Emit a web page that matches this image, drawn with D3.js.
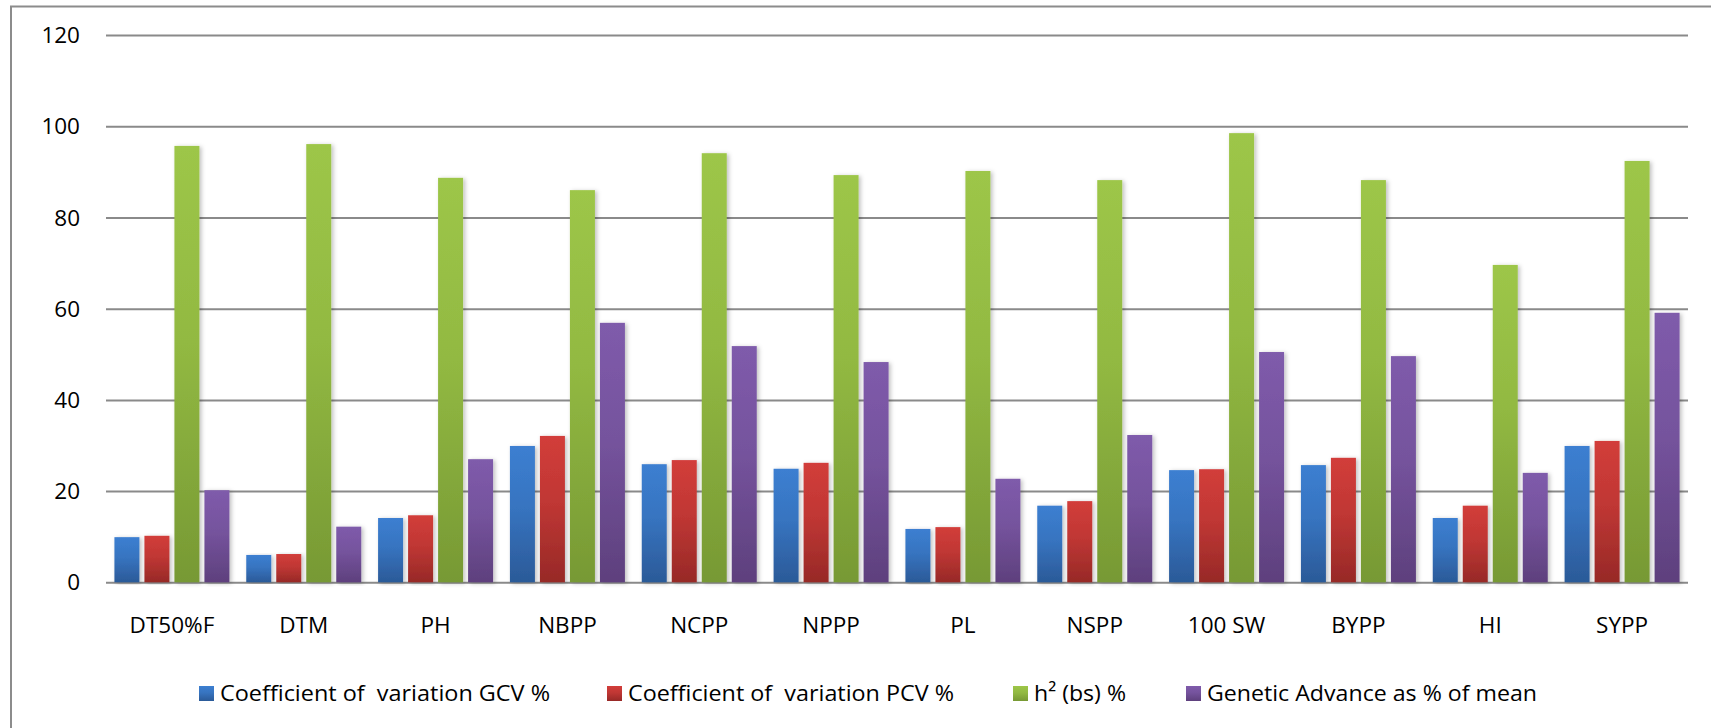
<!DOCTYPE html>
<html>
<head>
<meta charset="utf-8">
<script src="https://cdn.jsdelivr.net/npm/d3@7"></script>
<style>
  html, body { margin: 0; padding: 0; background: #fff; }
  svg { display: block; }
  text { font-family: "Open Sans", "DejaVu Sans", sans-serif; fill: #000; }
</style>
</head>
<body>
<svg id="chart" width="1711" height="728"></svg>
<script>
// ---- data ----
const categories = ["DT50%F", "DTM", "PH", "NBPP", "NCPP", "NPPP", "PL", "NSPP", "100 SW", "BYPP", "HI", "SYPP"];
const seriesNames = ["Coefficient of  variation GCV %", "Coefficient of  variation PCV %", "h² (bs) %", "Genetic Advance as % of mean"];
const gcv = [9.9, 6.0, 14.1, 29.9, 25.9, 24.9, 11.7, 16.8, 24.6, 25.7, 14.1, 29.9];
const pcv = [10.2, 6.2, 14.7, 32.1, 26.8, 26.2, 12.1, 17.8, 24.8, 27.3, 16.8, 31.0];
const h2 = [95.7, 96.1, 88.7, 86.0, 94.1, 89.3, 90.2, 88.2, 98.5, 88.2, 69.6, 92.4];
const ga = [20.2, 12.2, 27.0, 56.9, 51.8, 48.3, 22.7, 32.3, 50.5, 49.6, 24.0, 59.1];
const yTicks = [0, 20, 40, 60, 80, 100, 120];

const seriesValues = [gcv, pcv, h2, ga];
const colors = [
  ["#3c7fd1", "#2b5a98"],
  ["#d23d3a", "#972927"],
  ["#9dc648", "#779934"],
  ["#7f5bab", "#5e407d"]
];
const legendWidths = [330, 326, 92, 330];

const svg = d3.select("#chart");
const defs = svg.append("defs");
colors.forEach((c, i) => {
  const g = defs.append("linearGradient").attr("id", "grad" + i)
    .attr("x1", 0).attr("y1", 0).attr("x2", 0).attr("y2", 1);
  g.append("stop").attr("offset", "0%").attr("stop-color", c[0]);
  g.append("stop").attr("offset", "45%").attr("stop-color", d3.interpolateRgb(c[0], c[1])(0.3));
  g.append("stop").attr("offset", "100%").attr("stop-color", c[1]);
});
const f = defs.append("filter").attr("id", "shadow").attr("x", "-30%").attr("y", "-5%").attr("width", "160%").attr("height", "110%");
f.append("feDropShadow").attr("dx", 2).attr("dy", 1).attr("stdDeviation", 2).attr("flood-color", "#000").attr("flood-opacity", 0.25);

// frame
svg.append("rect").attr("x", 11).attr("y", 6.5).attr("width", 1720).attr("height", 760)
  .attr("fill", "none").attr("stroke", "#8c8c8c").attr("stroke-width", 2);

const plotLeft = 106, plotRight = 1688;
const x = d3.scaleBand().domain(categories).range([plotLeft, plotRight]).paddingInner(0).paddingOuter(0);
const y = d3.scaleLinear().domain([0, 120]).range([582.3, 35.1]);
const inner = 115;
const x1 = d3.scaleBand().domain(d3.range(seriesNames.length)).range([0, inner]).paddingInner(1 / 6).paddingOuter(0);

// gridlines
const yAxis = d3.axisLeft(y).tickValues(yTicks).tickSize(-(plotRight - plotLeft)).tickPadding(26).tickFormat(d3.format("d"));
const ga_ = svg.append("g").attr("transform", `translate(${plotLeft},0)`).call(yAxis);
ga_.select(".domain").remove();
ga_.selectAll(".tick line").attr("stroke", "#8a8a8a").attr("stroke-width", 2);
ga_.selectAll(".tick text").style("font-size", "22.5px").attr("fill", "#000").attr("dy", "0.34em");

// bars
const groups = svg.append("g").selectAll("g").data(categories).join("g")
  .attr("transform", c => `translate(${x(c) + (x.bandwidth() - inner) / 2},0)`);
groups.selectAll("rect").data((c, ci) => seriesValues.map((s, si) => ({ si, v: s[ci] })))
  .join("rect")
  .attr("x", d => x1(d.si))
  .attr("width", x1.bandwidth())
  .attr("y", d => y(d.v))
  .attr("height", d => y(0) - y(d.v))
  .attr("fill", d => `url(#grad${d.si})`)
  .attr("filter", "url(#shadow)");

// x labels
const xAxis = d3.axisBottom(x).tickSize(0).tickPadding(0);
const gx = svg.append("g").attr("transform", `translate(0,${y(0)})`).call(xAxis);
gx.select(".domain").remove();
gx.selectAll(".tick text").style("font-size", "22.5px").attr("fill", "#000").attr("y", 51).attr("dy", 0);

// legend
const legendX = [199, 607, 1013, 1186];
const leg = svg.append("g").selectAll("g").data(seriesNames).join("g")
  .attr("transform", (d, i) => `translate(${legendX[i]},686)`);
leg.append("rect").attr("width", 15).attr("height", 15).attr("fill", (d, i) => `url(#grad${i})`);
leg.append("text").attr("x", 21).attr("y", 15).style("font-size", "22.5px")
  .attr("textLength", (d, i) => legendWidths[i]).attr("lengthAdjust", "spacingAndGlyphs")
  .style("white-space", "pre").text(d => d);
</script>
</body>
</html>
